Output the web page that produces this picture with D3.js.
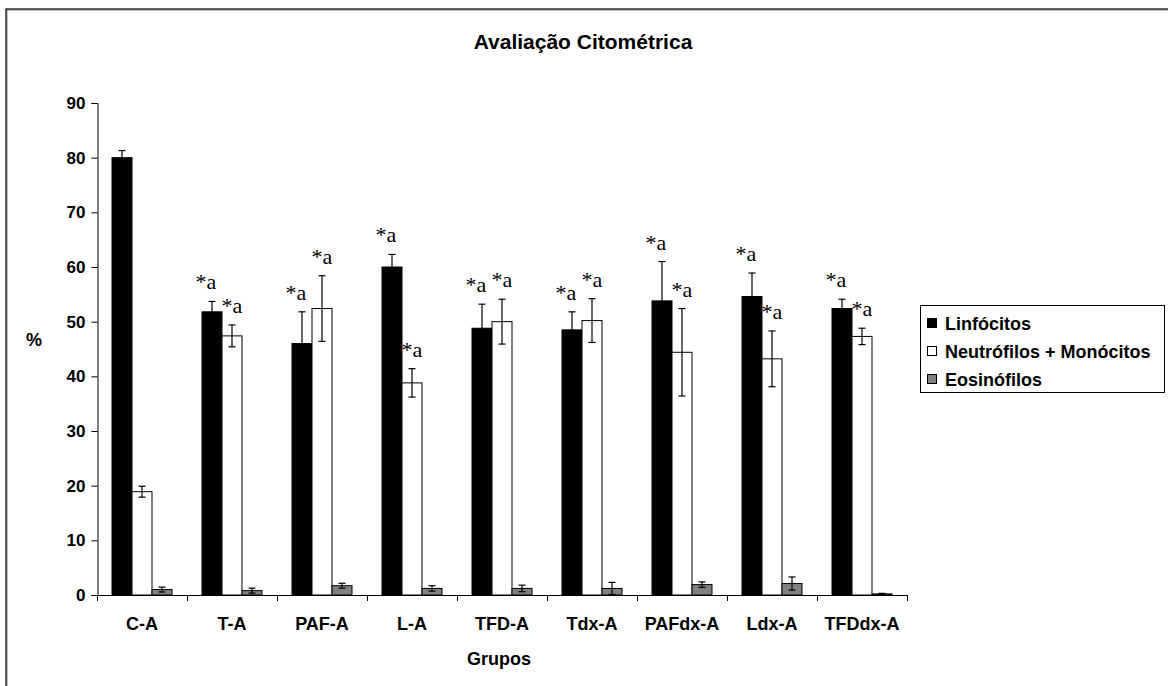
<!DOCTYPE html>
<html>
<head>
<meta charset="utf-8">
<script src="https://cdn.jsdelivr.net/npm/d3@7"></script>
<style>
  html, body { margin: 0; padding: 0; background: #fff; }
  svg { display: block; }
</style>
</head>
<body>
<svg id="chart" width="1168" height="686"></svg>
<script>
// Grupos experimentais
const categories = ["C-A", "T-A", "PAF-A", "L-A", "TFD-A", "Tdx-A", "PAFdx-A", "Ldx-A", "TFDdx-A"];

// Percentagens médias e erro padrão por tipo celular
const linfocitos    = [80.0, 51.8, 46.0, 60.0, 48.8, 48.5, 53.8, 54.6, 52.4];
const linfocitosErr = [1.3, 1.9, 5.8, 2.3, 4.4, 3.3, 7.2, 4.3, 1.7];
const neutrofilos    = [18.9, 47.4, 52.4, 38.8, 50.0, 50.2, 44.4, 43.2, 47.3];
const neutrofilosErr = [1.0, 2.0, 6.0, 2.6, 4.1, 4.0, 8.0, 5.1, 1.5];
const eosinofilos    = [1.0, 0.8, 1.7, 1.2, 1.2, 1.2, 1.9, 2.1, 0.2];
const eosinofilosErr = [0.45, 0.45, 0.45, 0.5, 0.6, 1.1, 0.5, 1.2, 0.1];

// Diferença significativa em relação ao controle (marcada com "*a")
const signifLinf   = [false, true, true, true, true, true, true, true, true];
const signifNeutro = [false, true, true, true, true, true, true, true, true];

const seriesNames = ["Linfócitos", "Neutrófilos + Monócitos", "Eosinófilos"];
const yTicks = [0, 10, 20, 30, 40, 50, 60, 70, 80, 90];

const series = [
  { name: seriesNames[0], values: linfocitos,  errors: linfocitosErr,  signif: signifLinf,   fill: "#000000", labelShift: -6 },
  { name: seriesNames[1], values: neutrofilos, errors: neutrofilosErr, signif: signifNeutro, fill: "#ffffff", labelShift: 0 },
  { name: seriesNames[2], values: eosinofilos, errors: eosinofilosErr, signif: null,         fill: "#808080", labelShift: 0 }
];

const svg = d3.select("#chart");
const sans = "'Liberation Sans', Arial, sans-serif";
const serif = "'Liberation Serif', 'Times New Roman', serif";

// Moldura externa
svg.append("rect").attr("x", 7).attr("y", 10).attr("width", 1200).attr("height", 720)
  .attr("fill", "none").attr("stroke", "#8a8a8a").attr("stroke-width", 1);
svg.append("rect").attr("x", 6).attr("y", 9).attr("width", 1200).attr("height", 720)
  .attr("fill", "none").attr("stroke", "#000").attr("stroke-width", 1.2);

const plot = { left: 97, right: 907, top: 103, bottom: 595 };

const x = d3.scaleBand().domain(categories).range([plot.left, plot.right]).padding(0);
const groupWidth = 60;
const xs = d3.scaleBand().domain(d3.range(series.length))
  .range([(x.bandwidth() - groupWidth) / 2, (x.bandwidth() + groupWidth) / 2]).padding(0);
const y = d3.scaleLinear().domain([0, 90]).range([plot.bottom, plot.top]);

// Título
svg.append("text").attr("x", 583).attr("y", 49)
  .attr("text-anchor", "middle").attr("font-family", sans).attr("font-weight", "bold")
  .attr("font-size", 21).text("Avaliação Citométrica");

// Eixo Y
const yAxis = svg.append("g").attr("transform", `translate(${plot.left + 0.5},0)`)
  .call(d3.axisLeft(y).tickValues(yTicks).tickSize(6).tickPadding(6).tickFormat(d3.format("d")));
yAxis.select(".domain").attr("stroke", "#000");
yAxis.selectAll(".tick line").attr("stroke", "#000");
yAxis.selectAll("text").attr("font-family", sans).attr("font-weight", "bold").attr("font-size", 17).attr("fill", "#000");

// Eixo X
const xAxis = svg.append("g").attr("transform", `translate(0,${plot.bottom + 0.5})`)
  .call(d3.axisBottom(x).tickSize(0).tickPadding(22));
xAxis.select(".domain").attr("stroke", "#000").attr("d", `M${plot.left},0H${plot.right}`);
xAxis.selectAll("text").attr("font-family", sans).attr("font-weight", "bold").attr("font-size", 18).attr("fill", "#000");
// marcas entre grupos
const boundaries = categories.map(c => x(c)).concat([x(categories[categories.length - 1]) + x.bandwidth()]);
svg.append("g").selectAll("line").data(boundaries).join("line")
  .attr("x1", d => Math.round(d) + 0.5).attr("x2", d => Math.round(d) + 0.5)
  .attr("y1", plot.bottom).attr("y2", plot.bottom + 6).attr("stroke", "#000");

// Títulos dos eixos
svg.append("text").attr("x", 34).attr("y", 346).attr("text-anchor", "middle")
  .attr("font-family", sans).attr("font-weight", "bold").attr("font-size", 18).text("%");
svg.append("text").attr("x", 499).attr("y", 665).attr("text-anchor", "middle")
  .attr("font-family", sans).attr("font-weight", "bold").attr("font-size", 18).text("Grupos");

// Barras, barras de erro e marcas de significância
series.forEach((s, si) => {
  const g = svg.append("g");
  const bx = i => x(categories[i]) + xs(si);
  const bw = xs.bandwidth();

  g.selectAll("rect").data(s.values).join("rect")
    .attr("x", (d, i) => bx(i))
    .attr("y", d => y(d))
    .attr("width", bw)
    .attr("height", d => y(0) - y(d))
    .attr("fill", s.fill).attr("stroke", "#000").attr("stroke-width", 1);

  const eg = g.append("g").attr("stroke", "#000").attr("stroke-width", 1.2);
  s.values.forEach((v, i) => {
    const cx = bx(i) + bw / 2;
    const top = y(v + s.errors[i]);
    const bot = y(Math.max(0, v - s.errors[i]));
    eg.append("line").attr("x1", cx).attr("x2", cx).attr("y1", top).attr("y2", bot);
    eg.append("line").attr("x1", cx - 3.5).attr("x2", cx + 3.5).attr("y1", top).attr("y2", top);
    eg.append("line").attr("x1", cx - 3.5).attr("x2", cx + 3.5).attr("y1", bot).attr("y2", bot);
  });

  if (s.signif) {
    s.values.forEach((v, i) => {
      if (!s.signif[i]) return;
      svg.append("text")
        .attr("x", bx(i) + bw / 2 + s.labelShift)
        .attr("y", y(v + s.errors[i]) - 12)
        .attr("text-anchor", "middle")
        .attr("font-family", serif).attr("font-size", 22).attr("fill", "#000")
        .text("*a");
    });
  }
});

// Legenda
const legend = svg.append("g").attr("transform", "translate(920,305)");
legend.append("rect").attr("x", 0.5).attr("y", 0.5).attr("width", 244).attr("height", 87)
  .attr("fill", "#fff").attr("stroke", "#000").attr("stroke-width", 1);
series.forEach((s, i) => {
  const row = legend.append("g").attr("transform", `translate(0,${18 + i * 28})`);
  row.append("rect").attr("x", 7.5).attr("y", -4.5).attr("width", 9).attr("height", 9)
    .attr("fill", s.fill).attr("stroke", "#000").attr("stroke-width", 1);
  row.append("text").attr("x", 25).attr("y", 6.5)
    .attr("font-family", sans).attr("font-weight", "bold").attr("font-size", 18).text(s.name);
});
</script>
</body>
</html>
